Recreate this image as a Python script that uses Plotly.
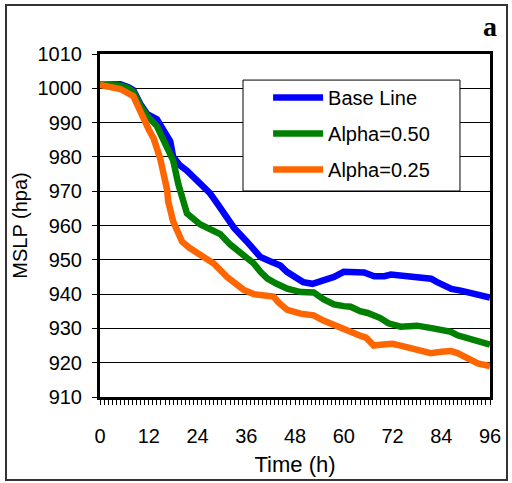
import plotly.graph_objects as go

# ---- data ----
t_base = [0, 3, 5, 7, 8.2, 9.9, 11.6, 14, 15.5, 17.3, 18, 19.7, 21.4, 24.6, 27, 28.5, 31, 33,
          36, 39.5, 42, 44.4, 46, 48.5, 50, 52.3, 55, 57.6, 60, 62.5, 65, 67.5, 70, 71.6, 74,
          76.5, 79, 81.5, 83, 84.7, 86.5, 88.8, 91, 93, 96]
v_base = [1001, 1001.2, 1001.2, 1000.3, 999.5, 995.5, 992.5, 991, 988, 984.5, 980, 977.5, 976,
          972.5, 969.5, 967, 963, 959.3, 955.5, 950.8, 949.5, 948.3, 946.5, 944.5, 943.5, 943,
          944, 945, 946.5, 946.5, 946.3, 945.2, 945.2, 945.7, 945.5, 945.2, 944.8, 944.5, 943.5,
          942.5, 941.5, 941, 940.5, 939.8, 939]

t_a50 = [0, 3, 5, 7, 8.2, 9.9, 11.6, 14, 15.5, 16.8, 18, 19.3, 20.3, 21.4, 24.7, 27, 29.6, 32,
         34.6, 36.5, 37.8, 39.5, 41.2, 43.5, 46.1, 49.4, 52.6, 55, 57.6, 60, 61.7, 64, 65.9, 69,
         71, 74, 76, 78, 82, 86.4, 88, 90.6, 93, 96]
v_a50 = [1001, 1001, 1000.8, 1000, 999, 995, 992, 989, 985, 982, 979, 972, 967.5, 963.5, 960.3,
         959, 957.5, 954.5, 952, 950.5, 949, 946.5, 944.5, 943, 941.6, 940.6, 940.5, 938.5, 937,
         936.5, 936.3, 935, 934.5, 933, 931.5, 930.5, 930.7, 930.8, 930, 929, 928, 927.2, 926,
         925.3]

t_a25 = [0, 2, 5, 8.2, 9.5, 10.6, 12, 13.2, 14.8, 16.5, 16.8, 18, 20.2, 22, 24.7, 28, 31.3, 33,
         35.3, 37.8, 40, 42.7, 44, 46.1, 49.4, 52.6, 55, 57.6, 60.9, 64.2, 65.5, 67.4, 69, 72,
         74, 77.3, 79, 81.4, 84, 86.4, 88, 90.6, 93, 96]
v_a25 = [1001, 1000.7, 999.8, 997.7, 994, 991.3, 988, 985.4, 979.6, 970.5, 967, 961.2, 955.3,
         953.5, 951.5, 948.9, 945, 943.5, 941.3, 940, 939.8, 939.3, 937.5, 935.4, 934.3, 933.8,
         932.3, 931, 929, 927.8, 927.3, 925, 925.2, 925.5, 925, 924, 923.5, 922.8, 923.2, 923.4,
         922.8, 921.2, 919.8, 919]

names = ["Base Line", "Alpha=0.50", "Alpha=0.25"]
colors = ["#0000FF", "#008000", "#FF6600"]
x_ticks = [0, 12, 24, 36, 48, 60, 72, 84, 96]
y_ticks = [910, 920, 930, 940, 950, 960, 970, 980, 990, 1000, 1010]

FONT = "Liberation Sans, Arial, sans-serif"

fig = go.Figure()
for i, (t, v) in enumerate([(t_base, v_base), (t_a50, v_a50), (t_a25, v_a25)]):
    fig.add_trace(go.Scatter(x=t, y=v, mode="lines", name=names[i],
                             legendgroup=f"g{i}",
                             line=dict(color=colors[i], width=6.5)))

fig.update_layout(
    width=512, height=483,
    margin=dict(l=100, r=22, t=54, b=86),
    paper_bgcolor="white", plot_bgcolor="white",
    font=dict(family=FONT, size=20, color="black"),
    showlegend=True,
    legend=dict(x=0.431, y=0.93, xanchor="left", yanchor="top",
                bgcolor="rgba(0,0,0,0)", borderwidth=0,
                font=dict(family=FONT, size=20, color="black"), tracegroupgap=7,
                traceorder="grouped", itemwidth=50),
    xaxis=dict(range=[0, 96], tickvals=x_ticks, ticks="outside", ticklen=5,
               tickcolor="black", showgrid=False, zeroline=False, automargin=False,
               showline=True, mirror=True, linecolor="black", linewidth=3,
               ticklabelstandoff=14,
               tickfont=dict(family=FONT, size=20, color="black"),
               minor=dict(dtick=1, ticks="outside", ticklen=5, tickcolor="black",
                          showgrid=False),
               title=dict(text="Time (h)", standoff=11,
                          font=dict(family=FONT, size=22, color="black"))),
    yaxis=dict(range=[910, 1010], tickvals=y_ticks, ticks="outside", ticklen=5,
               tickcolor="black", showgrid=True, gridcolor="black", gridwidth=1,
               zeroline=False, showline=True, mirror=True, linecolor="black",
               linewidth=3, ticklabelstandoff=6, automargin=False,
               tickfont=dict(family=FONT, size=20, color="black"),
               title=dict(text="MSLP (hpa)", standoff=5,
                          font=dict(family=FONT, size=20, color="black"))),
    shapes=[
        dict(type="rect", xref="paper", yref="paper",
             x0=-0.241, x1=1.0436, y0=-0.242, y1=1.143,
             line=dict(color="#333333", width=2), layer="below"),
        dict(type="rect", xref="paper", yref="paper",
             x0=0.3667, x1=0.923, y0=0.6006, y1=0.924,
             fillcolor="white", line=dict(color="black", width=1), layer="above"),
    ],
    annotations=[dict(text="<b>a</b>", xref="paper", yref="paper", x=1.0, y=1.08,
                      xanchor="center", yanchor="middle", showarrow=False,
                      font=dict(family="Liberation Serif, Times New Roman, serif",
                                size=28, color="black"))],
)

fig.write_html("out.html")
